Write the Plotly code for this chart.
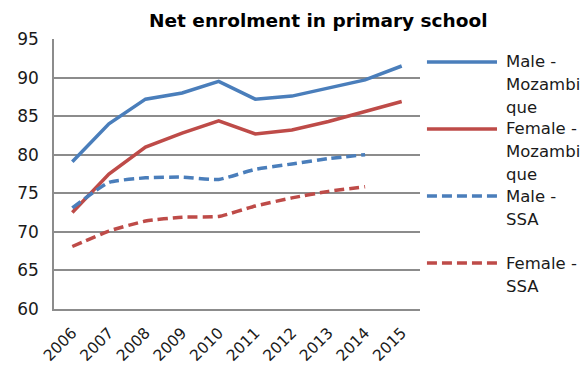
import plotly.graph_objects as go

# Net enrolment in primary school (%), Mozambique vs Sub-Saharan Africa
years = ["2006", "2007", "2008", "2009", "2010", "2011", "2012", "2013", "2014", "2015"]
male_moz = [79.1, 84.0, 87.2, 88.0, 89.5, 87.2, 87.6, 88.7, 89.7, 91.5]
female_moz = [72.5, 77.5, 81.0, 82.8, 84.4, 82.7, 83.2, 84.3, 85.6, 86.9]
male_ssa = [73.1, 76.4, 77.0, 77.1, 76.8, 78.1, 78.8, 79.5, 80.0]
female_ssa = [68.1, 70.1, 71.4, 71.9, 72.0, 73.35, 74.4, 75.25, 75.85]

# Legend labels, already wrapped the way the legend box breaks them
series_labels = [["Male -", "Mozambi", "que"], ["Female -", "Mozambi", "que"],
                 ["Male -", "SSA"], ["Female -", "SSA"]]
series_values = [male_moz, female_moz, male_ssa, female_ssa]

BLUE = "#4a7ebb"
RED = "#be4b48"
FONT = "DejaVu Sans"
styles = [
    dict(color=BLUE, dash="solid", shape="linear"),
    dict(color=RED, dash="solid", shape="linear"),
    dict(color=BLUE, dash="10px,5px", shape="spline"),
    dict(color=RED, dash="10px,5px", shape="spline"),
]

fig = go.Figure()
for lines, vals, st in zip(series_labels, series_values, styles):
    fig.add_trace(go.Scatter(
        x=years[:len(vals)], y=vals, mode="lines", name=" ".join(lines),
        line=dict(color=st["color"], width=3.5, dash=st["dash"],
                  shape=st["shape"], smoothing=0.5),
        showlegend=False,
    ))

# Hand-built legend to the right of the plot area
legend_y = [0.915, 0.667, 0.4185, 0.170]
LINE_STEP = 23
for lines, st, ly in zip(series_labels, styles, legend_y):
    fig.add_shape(type="line", xref="paper", yref="paper",
                  x0=1.019, x1=1.2104, y0=ly, y1=ly,
                  line=dict(color=st["color"], width=3.5, dash=st["dash"]))
    for k, txt in enumerate(lines):
        fig.add_annotation(xref="paper", yref="paper", x=1.229, y=ly,
                           xanchor="left", yanchor="middle",
                           yshift=-LINE_STEP * k,
                           text=txt, showarrow=False, align="left",
                           font=dict(family=FONT, size=16.5, color="#1a1a1a"))

fig.update_layout(
    width=584, height=367,
    margin=dict(l=54, r=164, t=39, b=58),
    paper_bgcolor="white", plot_bgcolor="white",
    font=dict(family=FONT, color="#1a1a1a"),
    title=dict(text="<b>Net enrolment in primary school</b>",
               x=0.545, xanchor="center", y=0.943, yanchor="middle",
               font=dict(family=FONT, size=18.5, color="#000000")),
)
fig.update_xaxes(
    type="category", range=[-0.5, 9.5], automargin=False,
    tickangle=-45, tickfont=dict(size=15.5),
    showgrid=False, showline=True, linecolor="#8c8c8c", linewidth=1.5,
    ticks="", ticklabelstandoff=7,
)
fig.update_yaxes(
    range=[60, 95], dtick=5, tickfont=dict(size=17), automargin=False,
    showgrid=True, gridcolor="#8c8c8c", gridwidth=1.5,
    showline=True, linecolor="#8c8c8c", linewidth=1.5,
    zeroline=False, ticks="", ticklabelstandoff=10,
)

fig.write_html("out.html")
